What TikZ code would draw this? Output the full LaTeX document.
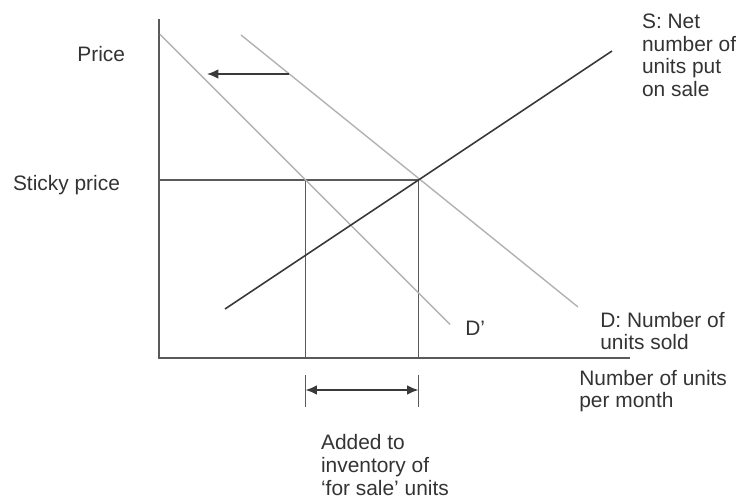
\documentclass[tikz,border=0pt]{standalone}
\usepackage{fontspec}
\setmainfont{Liberation Sans}
\usetikzlibrary{arrows.meta}
\definecolor{axisgray}{HTML}{5A5A5A}
\definecolor{linegray}{HTML}{B2B2B2}
\definecolor{supgray}{HTML}{3A3A3A}
\definecolor{txtgray}{HTML}{333333}
\begin{document}
\begin{tikzpicture}
[x=0.02cm, y=-0.02cm, font=\fontsize{11.9}{13}\selectfont]
\tikzstyle{txt}=[inner sep=0pt, text=txtgray, align=left, anchor=base west]
\tikzstyle{axis}=[axisgray, line width=1.1pt]
\tikzstyle{guide}=[axisgray, line width=1pt]
\tikzstyle{demand}=[linegray, line width=0.8pt]
\tikzstyle{supply}=[supgray, line width=0.9pt]
\tikzstyle{tip}=[supgray, line width=0.9pt, >={Latex[length=6.5pt, width=5.5pt]}]
\useasboundingbox (0,0) rectangle (736,502);
\coordinate	(O)	at (159,358);
\coordinate	(Ytop)	at (159,19);
\coordinate	(Xend)	at (630,358);
\coordinate	(Ps)	at (159,180);
\coordinate	(E)	at (418.5,180);
\coordinate	(F)	at (305.5,180);
\coordinate	(Fb)	at (305.5,358);
\coordinate	(Eb)	at (418.5,358);
\coordinate	(T1a)	at (305.5,375);
\coordinate	(T1b)	at (305.5,407);
\coordinate	(T2a)	at (418.5,375);
\coordinate	(T2b)	at (418.5,407);
\coordinate	(A1)	at (305.5,390);
\coordinate	(A2)	at (418.5,390);
\coordinate	(Dp0)	at (160,34.5);
\coordinate	(Dp1)	at (450,324.5);
\coordinate	(D0)	at (241,35);
\coordinate	(D1)	at (578,307);
\coordinate	(S0)	at (225,309);
\coordinate	(S1)	at (612,51);
\coordinate	(M0)	at (289,74);
\coordinate	(M1)	at (207,74);

\node[txt]	(price)		at (77,61.7)	{Price};
\node[txt]	(sticky)	at (12.7,190.7)	{Sticky price};
\node[txt]	(Slab)		at (641.7,96.7)	{S: Net\\number of\\units put\\on sale};
\node[txt]	(Dplab)		at (465,336)	{D'};
\node[txt]	(Dlab)		at (600,350)	{D: Number of\\units sold};
\node[txt]	(xlab)		at (579,408)	{Number of units\\per month};
\node[txt]	(inv)		at (320.7,495)	{Added to\\inventory of\\`for sale' units};

\draw[axis] (Ytop)--(O)--(Xend);
\draw[guide] (Ps)--(E)--(Eb);
\draw[guide] (F)--(Fb);
\draw[guide] (T1a)--(T1b);
\draw[guide] (T2a)--(T2b);
\draw[demand] (Dp0)--(Dp1);
\draw[demand] (D0)--(D1);
\draw[supply] (S0)--(S1);
\draw[tip, ->] (M0)--(M1);
\draw[tip, <->] (A1)--(A2);
\end{tikzpicture}
\end{document}
